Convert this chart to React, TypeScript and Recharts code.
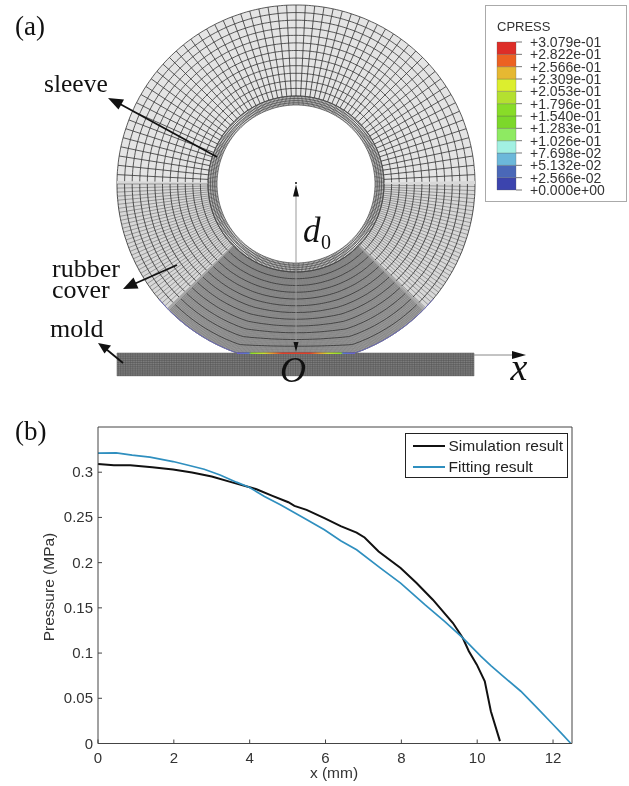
import { Bar, BarChart, Legend, Line, LineChart, XAxis, YAxis, Surface } from 'recharts';

// panel (b) curves, x in mm, pressure in MPa
const simX = [0, 0.42, 0.85, 1.43, 1.98, 2.48, 3.0, 3.49, 4.0, 4.18, 4.6, 5.02, 5.18, 5.5, 5.97, 6.4, 6.82, 7.03, 7.4, 7.98, 8.4, 8.83, 9.36, 9.62, 9.78, 9.99, 10.2, 10.36, 10.6];
const simP = [0.309, 0.3077, 0.3077, 0.3055, 0.303, 0.2996, 0.2952, 0.2893, 0.2834, 0.2812, 0.2738, 0.2668, 0.2628, 0.2584, 0.2492, 0.2404, 0.2333, 0.2278, 0.2124, 0.194, 0.1774, 0.159, 0.1332, 0.1167, 0.102, 0.0872, 0.0688, 0.0357, 0.0026];
const fitX = [0, 0.48, 0.9, 1.37, 1.98, 2.38, 2.8, 3.22, 3.65, 4, 4.39, 4.81, 5.44, 5.97, 6.4, 6.82, 7.45, 7.98, 8.62, 9.14, 9.62, 10.1, 10.36, 10.68, 11.15, 11.58, 12, 12.21, 12.47];
const fitP = [0.321, 0.3214, 0.3188, 0.3166, 0.3118, 0.3077, 0.3033, 0.297, 0.289, 0.283, 0.2731, 0.264, 0.2492, 0.2363, 0.2242, 0.2142, 0.194, 0.1774, 0.1535, 0.135, 0.1167, 0.0964, 0.0862, 0.0745, 0.0578, 0.0394, 0.021, 0.0118, 0];
const xTicks = [0, 2, 4, 6, 8, 10, 12];
const yTicks = [0, 0.05, 0.1, 0.15, 0.2, 0.25, 0.3];

// panel (a) colour bar
const cpressLevels = [0, 0.02566, 0.05132, 0.07698, 0.1026, 0.1283, 0.154, 0.1796, 0.2053, 0.2309, 0.2566, 0.2822, 0.3079];
const cpressLabels = ['+0.000e+00', '+2.566e-02', '+5.132e-02', '+7.698e-02', '+1.026e-01', '+1.283e-01', '+1.540e-01', '+1.796e-01', '+2.053e-01', '+2.309e-01', '+2.566e-01', '+2.822e-01', '+3.079e-01'];
const cpressColors = ['#3c44ae', '#4a68b8', '#6cb8da', '#a2f0e2', '#8eea62', '#7cd82a', '#88dc28', '#b4e030', '#dcee2e', '#e6b832', '#ec6222', '#de2e28'];

const simData = simX.map((x, i) => ({ x, p: simP[i] }));
const fitData = fitX.map((x, i) => ({ x, p: fitP[i] }));
const barRow: Record<string, number | string> = { name: 'CPRESS' };
cpressColors.forEach((_, i) => {
  barRow[`b${i}`] = cpressLevels[i + 1] - cpressLevels[i];
});

const SANS = '"Liberation Sans", Arial, sans-serif';
const SERIF = '"Liberation Serif", "Times New Roman", serif';
const AXIS_INK = '#444';

// mesh geometry of the sketch
const CX = 296;
const CY = 184;
const R_HOLE = 79;
const R_SLEEVE = 88;
const R_OUT = 179;
const CONTACT = 169;
const RAD = Math.PI / 180;

function rubberPt(deg: number, t: number) {
  const a = deg * RAD;
  const c = Math.cos(a);
  const flat = c > 0 ? R_OUT - Math.min(R_OUT, CONTACT / c) : 0;
  const soft = c > 0 ? (R_OUT - CONTACT) * c * c : 0;
  // inner rings stay round, only the outermost ones flatten on the mold
  const r = R_SLEEVE + t * (R_OUT - R_SLEEVE) - t * ((1 - t * t) * soft + t * t * flat);
  return `${(CX + r * Math.sin(a)).toFixed(1)} ${(CY + r * c).toFixed(1)}`;
}

function sleevePt(deg: number, r: number) {
  const a = deg * RAD;
  return `${(CX + r * Math.sin(a)).toFixed(1)} ${(CY + r * Math.cos(a)).toFixed(1)}`;
}

function arc(from: number, to: number, t: number) {
  let d = `M${rubberPt(from, t)}`;
  for (let a = from + 1; a <= to; a += 1) d += `L${rubberPt(a, t)}`;
  return d;
}

function spokes(from: number, to: number, step: number) {
  let d = '';
  for (let a = from; a <= to + 0.001; a += step) d += `M${rubberPt(a, 0)}L${rubberPt(a, 1)}`;
  return d;
}

function band(from: number, to: number) {
  let d = `M${rubberPt(from, 0)}`;
  for (let a = from; a <= to; a += 1) d += `L${rubberPt(a, 0)}`;
  for (let a = to; a >= from; a -= 1) d += `L${rubberPt(a, 1)}`;
  return d + 'Z';
}

function rings(from: number, to: number, count: number) {
  let d = '';
  for (let i = 0; i <= count; i++) d += arc(from, to, i / count);
  return d;
}

function sleeveRings() {
  let d = '';
  [R_HOLE, 81.2, 83.4, 85.6, R_SLEEVE].forEach(r => {
    d += `M${sleevePt(0, r)}`;
    for (let a = 2; a <= 360; a += 2) d += `L${sleevePt(a, r)}`;
  });
  return d;
}

function sleeveSpokes() {
  let d = '';
  for (let a = 0; a < 360; a += 0.9) d += `M${sleevePt(a, R_HOLE)}L${sleevePt(a, R_SLEEVE)}`;
  return d;
}

const contactStops: [number, string][] = [
  [-59, '#6a5fd0'], [-47, '#5a78d0'], [-45, '#8ede28'], [-32, '#c8e030'], [-24, '#e89a30'], [-14, '#e0402a'], [14, '#e0402a'], [24, '#e89a30'], [32, '#c8e030'], [45, '#8ede28'], [47, '#5a78d0'], [59, '#6a5fd0'],
];

function moldLines() {
  let v = '';
  for (let x = 117; x <= 474; x += 1.7) v += `M${x.toFixed(1)} 353V376`;
  for (let y = 353; y <= 376; y += 1.9) v += `M117 ${y.toFixed(1)}H474`;
  return v;
}

function MeshSketch() {
  return (
    <Surface width={629} height={410} viewBox={{ x: 0, y: 0, width: 629, height: 410 }} style={{ position: 'absolute', left: 0, top: 0 }}>
      <defs>
        <linearGradient id="contact" gradientUnits="userSpaceOnUse" x1={CX - 59} x2={CX + 59} y1="0" y2="0">
          {contactStops.map(([dx, c]) => (
            <stop key={dx} offset={(dx + 59) / 118} stopColor={c} />
          ))}
        </linearGradient>
      </defs>
      <g fill="none">
        {/* top part, coarse cells */}
        <path d={band(90, 270)} fill="#e4e4e4" />
        <path d={spokes(90, 270, 3)} stroke="#333" strokeWidth={0.8} />
        <path d={rings(90, 270, 12)} stroke="#333" strokeWidth={0.8} />
        {/* flanks, long thin cells */}
        <path d={band(45, 91)} fill="#d8d8d8" />
        <path d={band(269, 315)} fill="#d8d8d8" />
        <path d={spokes(45, 90, 1.3)} stroke="#555" strokeWidth={0.5} />
        <path d={spokes(270, 315, 1.3)} stroke="#555" strokeWidth={0.5} />
        <path d={rings(45, 90, 12)} stroke="#333" strokeWidth={0.85} />
        <path d={rings(270, 315, 12)} stroke="#333" strokeWidth={0.85} />
        {/* contact zone, dense cells */}
        <path d={band(-46, 46)} fill="#a6a6a6" />
        <path d={spokes(-45, 45, 0.42)} stroke="#6a6a6a" strokeWidth={0.45} />
        <path d={rings(-45, 45, 48)} stroke="#7a7a7a" strokeWidth={0.35} />
        <path d={rings(-45, 45, 12)} stroke="#3c3c3c" strokeWidth={0.9} />
        {/* blue tint where the cover just leaves the mold */}
        <path d={arc(19, 50, 1)} stroke="#7a78d8" strokeWidth={0.8} />
        <path d={arc(310, 341, 1)} stroke="#7a78d8" strokeWidth={0.8} />
        {/* sleeve */}
        <path d={sleeveRings()} stroke="#444" strokeWidth={0.7} />
        <path d={sleeveSpokes()} stroke="#444" strokeWidth={0.7} />
        {/* mold */}
        <rect x={117} y={353} width={357} height={23} fill="#8a8a8a" />
        <path d={moldLines()} stroke="#4c4c4c" strokeWidth={0.5} />
        <path d={`M${CX - 59} 353.2H${CX + 59}`} stroke="url(#contact)" strokeWidth={1.6} />
      </g>

      {/* d0 axis */}
      <path d={`M${CX} 196V344`} stroke="#999" strokeWidth={1} />
      <path d={`M${CX} 184.5l-3 12h6zM${CX} 352l-2.5 -10h5z`} fill="#111" />
      <circle cx={CX} cy={183} r={1} fill="#111" />
      {/* x axis */}
      <path d="M474 355H514" stroke="#888" strokeWidth={1} />
      <path d="M526 355l-14 -4v8z" fill="#111" />
      {/* leader arrows */}
      <path d="M217 157L120 104" stroke="#111" strokeWidth={1.8} />
      <path d="M108 98l16 1.5 -5.5 10z" fill="#111" />
      <path d="M177 265L134 284" stroke="#111" strokeWidth={1.8} />
      <path d="M123 289l10.500 -11.500 5 11z" fill="#111" />
      <path d="M123 363L106 349" stroke="#111" strokeWidth={1.8} />
      <path d="M98 343l13 2.500 -6.500 8z" fill="#111" />

      <g fontFamily={SERIF} fill="#111">
        <text x={15} y={35} fontSize={27}>(a)</text>
        <text x={44} y={92} fontSize={25.5}>sleeve</text>
        <text x={52} y={277} fontSize={26}>rubber</text>
        <text x={52} y={298} fontSize={26}>cover</text>
        <text x={50} y={337} fontSize={26}>mold</text>
        <text x={303} y={242} fontSize={35} fontStyle="italic">d</text>
        <text x={321} y={249} fontSize={20}>0</text>
        <text x={293} y={382} fontSize={36} fontStyle="italic" textAnchor="middle">O</text>
        <text x={519} y={380} fontSize={38} fontStyle="italic" textAnchor="middle">x</text>
      </g>
    </Surface>
  );
}

function ColorBar() {
  return (
    <div style={{ position: 'absolute', left: 485, top: 5, width: 142, height: 197, boxSizing: 'border-box', border: '1px solid #aaa', background: '#fff' }}>
      <div style={{ position: 'absolute', left: 11, top: 13, fontFamily: SANS, fontSize: 13, color: '#333' }}>CPRESS</div>
      <BarChart width={140} height={195} data={[barRow]} barCategoryGap={0} margin={{ top: 36, right: 0, bottom: 11, left: 11 }} style={{ position: 'absolute', left: 0, top: 0 }}>
        <XAxis dataKey="name" hide />
        <YAxis
          orientation="right"
          width={110}
          type="number"
          domain={[0, 0.3079]}
          ticks={cpressLevels}
          interval={0}
          tickFormatter={(v: number) => cpressLabels[cpressLevels.indexOf(v)]}
          tickSize={6}
          tickMargin={8}
          axisLine={false}
          tickLine={{ stroke: '#777' }}
          tick={{ fontFamily: SANS, fontSize: 14, fill: '#333' }}
        />
        {cpressColors.map((c, i) => (
          <Bar key={c + i} dataKey={`b${i}`} stackId="cpress" fill={c} stroke="#5a5a5a" strokeWidth={0.3} isAnimationActive={false} />
        ))}
      </BarChart>
    </div>
  );
}

function BottomTick({ x, y, payload }: any) {
  return (
    <g>
      <line x1={x} x2={x} y1={y} y2={y - 4} stroke={AXIS_INK} />
      <text x={x} y={y + 19} textAnchor="middle" fontFamily={SANS} fontSize={15} fill="#333">{payload.value}</text>
    </g>
  );
}

function LeftTick({ x, y, payload }: any) {
  return (
    <g>
      <line x1={x} x2={x + 4} y1={y} y2={y} stroke={AXIS_INK} />
      <text x={x - 5} y={y + 5} textAnchor="end" fontFamily={SANS} fontSize={15} fill="#333">{payload.value}</text>
    </g>
  );
}

const TopTick = ({ x, y }: any) => <line x1={x} x2={x} y1={y} y2={y + 4} stroke={AXIS_INK} />;
const RightTick = ({ x, y }: any) => <line x1={x} x2={x - 4} y1={y} y2={y} stroke={AXIS_INK} />;

function LegendBox({ payload }: any) {
  return (
    <div style={{ boxSizing: 'border-box', width: 163, height: 45, border: '1px solid #222', background: '#fff', fontFamily: SANS, fontSize: 15.5, color: '#222', position: 'relative' }}>
      {(payload ?? []).map((item: any, i: number) => (
        <div key={item.value} style={{ position: 'absolute', left: 0, top: 2 + i * 21, height: 20, lineHeight: '20px', whiteSpace: 'nowrap' }}>
          <span style={{ position: 'absolute', left: 7, top: 9, width: 32, height: 2, background: item.color }} />
          <span style={{ position: 'absolute', left: 43 }}>{item.value}</span>
        </div>
      ))}
    </div>
  );
}

function PressureChart() {
  return (
    <LineChart width={629} height={376} margin={{ top: 16, right: 56, bottom: 12.5, left: 50 }} style={{ position: 'absolute', left: 0, top: 410 }}>
      <XAxis type="number" dataKey="x" domain={[0, 12.5]} ticks={xTicks} height={30} tickSize={0} tickMargin={0} tickLine={false} interval={0} stroke={AXIS_INK} tick={BottomTick} allowDuplicatedCategory={false} />
      <XAxis xAxisId="top" orientation="top" type="number" dataKey="x" domain={[0, 12.5]} ticks={xTicks} height={1} tickSize={0} tickMargin={0} tickLine={false} interval={0} stroke={AXIS_INK} tick={TopTick} allowDuplicatedCategory={false} />
      <YAxis type="number" domain={[0, 0.35]} ticks={yTicks} width={48} tickSize={0} tickMargin={0} tickLine={false} interval={0} stroke={AXIS_INK} tick={LeftTick} />
      <YAxis yAxisId="right" orientation="right" type="number" domain={[0, 0.35]} ticks={yTicks} width={1} tickSize={0} tickMargin={0} tickLine={false} interval={0} stroke={AXIS_INK} tick={RightTick} />
      <Legend layout="horizontal" verticalAlign="middle" itemSorter={null} content={LegendBox} wrapperStyle={{ left: 404.5, top: 22.5, width: 163, height: 45 }} />
      <Line data={simData} dataKey="p" name="Simulation result" type="linear" stroke="#111" strokeWidth={2} dot={false} isAnimationActive={false} />
      <Line data={fitData} dataKey="p" name="Fitting result" type="linear" stroke="#2f8fbf" strokeWidth={1.7} dot={false} isAnimationActive={false} />
    </LineChart>
  );
}

export default function App() {
  return (
    <div style={{ position: 'relative', width: 629, height: 786, overflow: 'hidden', background: '#fff', filter: 'blur(0.45px)' }}>
      <style>{'body{margin:0}'}</style>
      <MeshSketch />
      <ColorBar />
      <div style={{ position: 'absolute', left: 15, top: 416, fontFamily: SERIF, fontSize: 27, color: '#111' }}>(b)</div>
      <PressureChart />
      <div style={{ position: 'absolute', left: 49, top: 587, transform: 'translate(-50%,-50%) rotate(-90deg)', fontFamily: SANS, fontSize: 15.5, color: '#333', whiteSpace: 'nowrap' }}>Pressure (MPa)</div>
      <div style={{ position: 'absolute', left: 334, top: 773, transform: 'translate(-50%,-50%)', fontFamily: SANS, fontSize: 15.5, color: '#333', whiteSpace: 'nowrap' }}>x (mm)</div>
    </div>
  );
}
